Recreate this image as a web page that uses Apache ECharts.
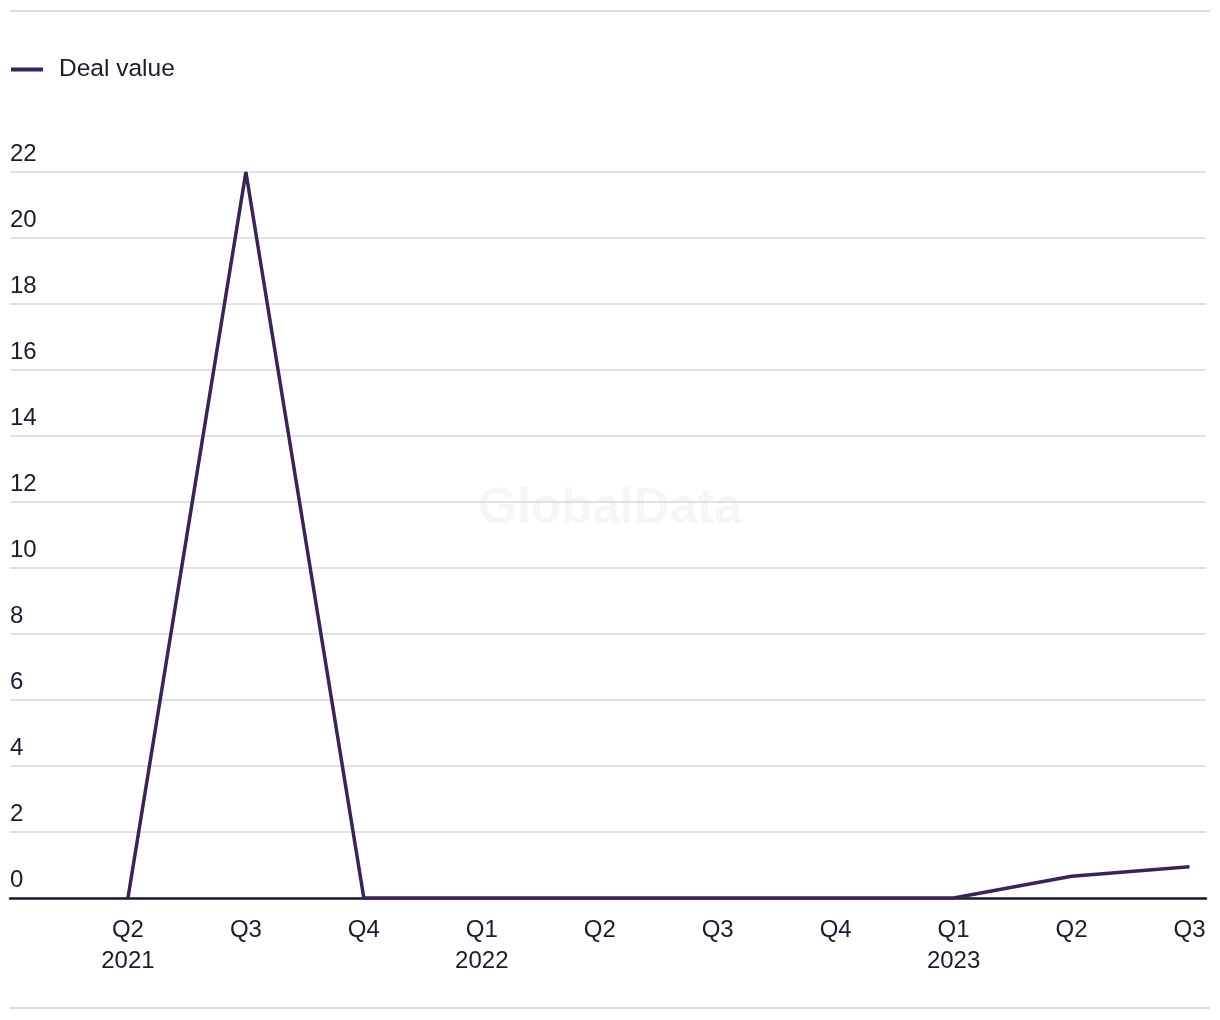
<!DOCTYPE html>
<html>
<head>
<meta charset="utf-8">
<script src="https://cdn.jsdelivr.net/npm/echarts@6/dist/echarts.min.js"></script>
<style>
  html, body { margin: 0; padding: 0; background: #fff; }
  #chart { width: 1220px; height: 1020px; }
</style>
</head>
<body>
<div id="chart"></div>
<script>
const categories = ["Q2\n2021", "Q3", "Q4", "Q1\n2022", "Q2", "Q3", "Q4", "Q1\n2023", "Q2", "Q3"];
const dealValue = [0, 22, 0, 0, 0, 0, 0, 0, 0.66, 0.95];
const seriesName = "Deal value";

const FONT = "'Liberation Sans', Arial, sans-serif";
const TEXT = "#1b1a2e";
const LINE = "#3a2356";

const chart = echarts.init(document.getElementById('chart'), null, { renderer: 'canvas' });
chart.setOption({
  animation: false,
  backgroundColor: '#fff',
  textStyle: { fontFamily: FONT },
  graphic: [
    { type: 'line', shape: { x1: 10, y1: 11, x2: 1210, y2: 11 }, style: { stroke: '#dcdcdc', lineWidth: 2 }, silent: true },
    { type: 'line', shape: { x1: 10, y1: 1008, x2: 1210, y2: 1008 }, style: { stroke: '#dcdcdc', lineWidth: 2 }, silent: true },
    { type: 'text', left: 'center', top: 484, z: 0,
      style: { text: 'GlobalData', font: "bold 50px 'Liberation Sans', Arial, sans-serif", fill: '#f6f6f6' }, silent: true }
  ],
  legend: {
    left: 6, top: 52,
    itemWidth: 32, itemHeight: 4, itemGap: 20,
    textStyle: { fontSize: 24.5, color: TEXT, fontFamily: FONT, padding: [0, 0, 0, 11] },
    data: [{ name: seriesName, icon: 'path://M0,0 L32,0 L32,4 L0,4 Z' }]
  },
  grid: { left: 10, right: 14, top: 172, bottom: 122, containLabel: false },
  xAxis: {
    type: 'value',
    min: -1, max: 9.14, interval: 1,
    axisLine: { show: true, lineStyle: { color: '#1b1a2e', width: 2.5 }, onZero: false },
    axisTick: { show: false },
    splitLine: { show: false },
    axisLabel: {
      showMaxLabel: false, showMinLabel: false,
      margin: 17, fontSize: 24, color: TEXT, lineHeight: 31, fontFamily: FONT,
      formatter: v => (v >= 0 && Number.isInteger(v) && v < categories.length) ? categories[v] : ''
    }
  },
  yAxis: {
    type: 'value', min: 0, max: 22, interval: 2,
    axisLine: { show: false }, axisTick: { show: false },
    splitLine: { lineStyle: { color: '#d9d9d9', width: 1.5 } },
    axisLabel: {
      inside: true, margin: 0, fontSize: 24, color: TEXT, fontFamily: FONT,
      verticalAlign: 'bottom', padding: [0, 0, 6, 0]
    }
  },
  series: [{
    name: seriesName,
    type: 'line',
    data: dealValue.map((v, i) => [i, v]),
    showSymbol: false, symbol: 'none',
    lineStyle: { color: LINE, width: 3.5 },
    itemStyle: { color: LINE },
    z: 3
  }]
});
</script>
</body>
</html>
